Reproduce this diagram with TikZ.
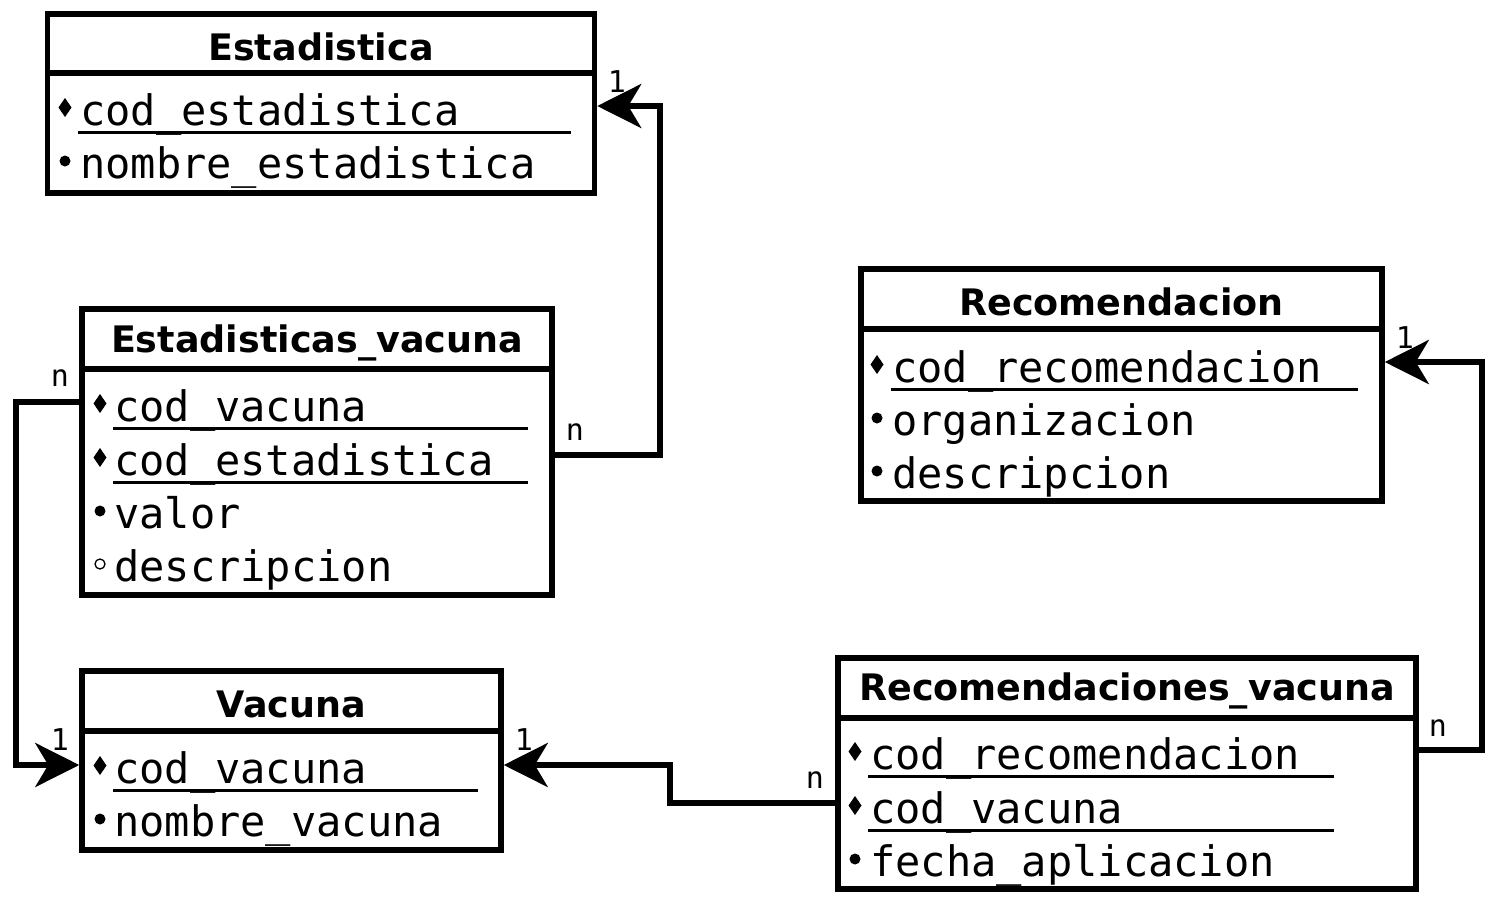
\documentclass[tikz,border=0pt]{standalone}
\usepackage{fontspec}
\setmainfont{DejaVu Sans}
\newfontfamily\monof{DejaVu Sans Mono}
\usetikzlibrary{arrows.meta}
\tikzset{
  entity/.style={draw, line width=5.5pt, inner sep=0pt, minimum width=#1},
  ttl/.style={font=\fontsize{36.5}{40}\selectfont\bfseries, inner sep=0pt},
  attr/.style={font=\monof\fontsize{42}{48}\selectfont, anchor=base west, inner sep=0pt},
  sep/.style={line width=5.5pt},
  uline/.style={line width=3pt},
  conn/.style={line width=5.5pt, -{Stealth[length=44pt,width=44pt,inset=13pt]}, line join=miter},
  card/.style={font=\monof\fontsize{30}{32}\selectfont, inner sep=0pt}
}
\newcommand\pkmark[2]{\fill (#1-6.5,#2) -- (#1,#2-9.5) -- (#1+6.5,#2) -- (#1,#2+9.5) -- cycle;}
\newcommand\mandmark[2]{\fill (#1,#2) circle (5.5pt);}
\newcommand\optmark[2]{\draw[line width=1.3pt] (#1,#2) circle (5pt);}
\begin{document}
\begin{tikzpicture}[x=1pt,y=-1pt]
\useasboundingbox (0,0) rectangle (1494,905);
% Estadistica
\node[entity=547pt, minimum height=179pt] (est) at (321,103.5) {};
\draw[sep] (est.west |- 0,73) -- (est.east |- 0,73);
\node[ttl] (estt) at (321,47) {Estadistica};
\node[attr] (est1) at (80,125) {cod\_estadistica};
\node[attr] (est2) at (80,178) {nombre\_estadistica};
\draw[uline] (78,132) -- (571,132);
\pkmark{65}{107.5}
\mandmark{65}{161}
% Estadisticas_vacuna
\node[entity=470pt, minimum height=286pt] (ev) at (317,452) {};
\draw[sep] (ev.west |- 0,369) -- (ev.east |- 0,369);
\node[ttl] (evt) at (317,343) {Estadisticas\_vacuna};
\node[attr] (ev1) at (114,421) {cod\_vacuna};
\node[attr] (ev2) at (114,475) {cod\_estadistica};
\node[attr] (ev3) at (114,528) {valor};
\node[attr] (ev4) at (114,581) {descripcion};
\draw[uline] (113,428) -- (528,428);
\draw[uline] (113,482) -- (528,482);
\pkmark{100}{403.5}
\pkmark{100}{457.5}
\mandmark{100}{511}
\optmark{100}{564}
% Vacuna
\node[entity=419pt, minimum height=179pt] (vac) at (291.5,760.5) {};
\draw[sep] (vac.west |- 0,731) -- (vac.east |- 0,731);
\node[ttl] (vact) at (291.5,704) {Vacuna};
\node[attr] (vac1) at (114,783) {cod\_vacuna};
\node[attr] (vac2) at (114,836) {nombre\_vacuna};
\draw[uline] (113,790) -- (478,790);
\pkmark{100}{765.5}
\mandmark{100}{819}
% Recomendacion
\node[entity=521pt, minimum height=232pt] (rec) at (1121.5,385) {};
\draw[sep] (rec.west |- 0,329) -- (rec.east |- 0,329);
\node[ttl] (rect) at (1121.5,302) {Recomendacion};
\node[attr] (rec1) at (892,382) {cod\_recomendacion};
\node[attr] (rec2) at (892,435) {organizacion};
\node[attr] (rec3) at (892,488) {descripcion};
\draw[uline] (891,389) -- (1358,389);
\pkmark{877}{364.5}
\mandmark{877}{418}
\mandmark{877}{471}
% Recomendaciones_vacuna
\node[entity=578pt, minimum height=231pt] (rv) at (1127,773.5) {};
\draw[sep] (rv.west |- 0,718) -- (rv.east |- 0,718);
\node[ttl] (rvt) at (1127,691) {Recomendaciones\_vacuna};
\node[attr] (rv1) at (870,769) {cod\_recomendacion};
\node[attr] (rv2) at (870,823) {cod\_vacuna};
\node[attr] (rv3) at (870,876) {fecha\_aplicacion};
\draw[uline] (868,776) -- (1334,776);
\draw[uline] (868,830) -- (1334,830);
\pkmark{855}{751.5}
\pkmark{855}{805.5}
\mandmark{855}{859}
% connectors
\draw[conn] (ev.east |- 0,455) -- (660,455) |- (est.east |- 0,106);
\draw[conn] (ev.west |- 0,402) -- (16,402) |- (vac.west |- 0,765);
\draw[conn] (rv.west |- 0,803) -- (670,803) |- (vac.east |- 0,765);
\draw[conn] (rv.east |- 0,750) -- (1482,750) |- (rec.east |- 0,362);
% cardinalities
\node[card] (c1) at (575,432) {n};
\node[card] (c2) at (617,82) {1};
\node[card] (c3) at (60,378) {n};
\node[card] (c4) at (60,740) {1};
\node[card] (c5) at (815,780) {n};
\node[card] (c6) at (524,740) {1};
\node[card] (c7) at (1438,728) {n};
\node[card] (c8) at (1405,338) {1};
\end{tikzpicture}
\end{document}
